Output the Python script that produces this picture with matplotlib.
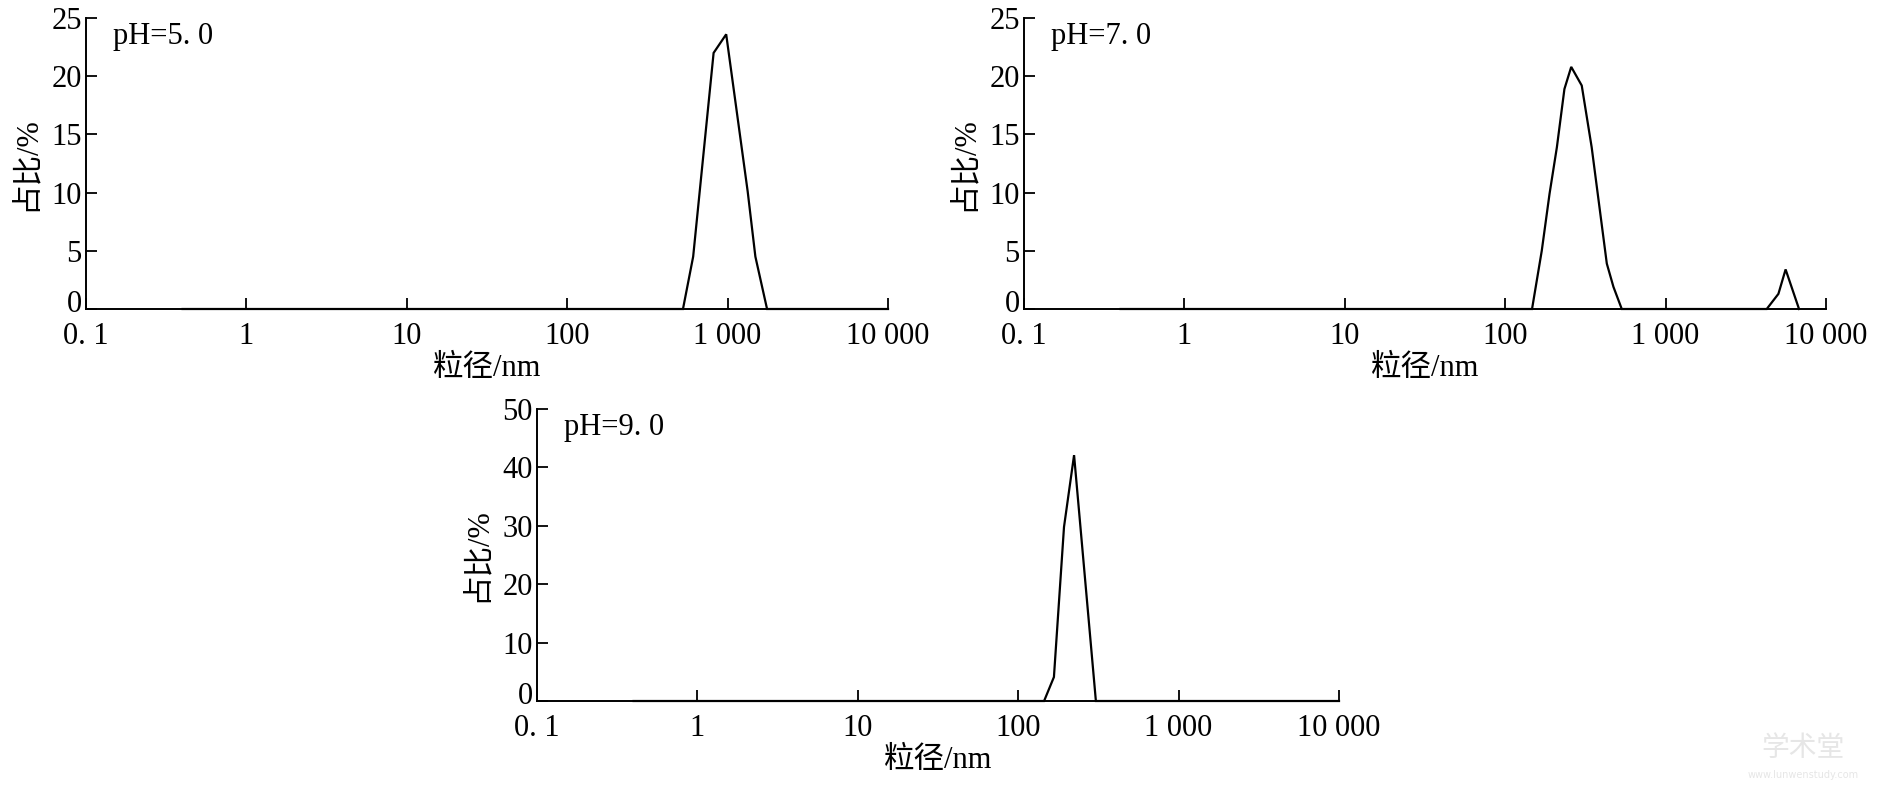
import matplotlib
matplotlib.use("Agg")
import matplotlib.pyplot as plt
from matplotlib.transforms import ScaledTranslation

# ---- data ----
size_ph5 = [0.4, 527, 610, 818, 980, 1334, 1490, 1762, 10000]
pct_ph5 = [0, 0, 4.5, 22.0, 23.6, 10.1, 4.5, 0, 0]

size_ph7 = [0.4, 147, 169, 189, 210, 234, 258, 300, 346, 430, 473, 533, 4270, 5050, 5600, 6790]
pct_ph7 = [0, 0, 5.0, 9.9, 13.9, 18.9, 20.8, 19.2, 13.9, 3.9, 1.9, 0, 0, 1.3, 3.4, 0]

size_ph9 = [0.4, 145, 167, 193, 223, 305, 10000]
pct_ph9 = [0, 0, 4.1, 29.8, 42.1, 0, 0]

xticks = [0.1, 1, 10, 100, 1000, 10000]
xtick_labels = ["0. 1", "1", "10", "100", "1 000", "10 000"]
yticks_a = [0, 5, 10, 15, 20, 25]
yticks_b = [0, 10, 20, 30, 40, 50]
titles = ["pH=5. 0", "pH=7. 0", "pH=9. 0"]
xlabel = "粒径/nm"
ylabel = "占比/%"

FONT = ["Liberation Serif", "Noto Sans CJK SC"]
FS = 22

fig = plt.figure(figsize=(18.9, 7.95), dpi=100)
fig.patch.set_facecolor("white")

rects = [
    (86 / 1890, 1 - 309 / 795, 802 / 1890, 291 / 795),
    (1024 / 1890, 1 - 309 / 795, 802 / 1890, 291 / 795),
    (537 / 1890, 1 - 701 / 795, 802 / 1890, 292 / 795),
]
datasets = [(size_ph5, pct_ph5, yticks_a), (size_ph7, pct_ph7, yticks_a), (size_ph9, pct_ph9, yticks_b)]

for rect, (xs, ys, yt), title in zip(rects, datasets, titles):
    ax = fig.add_axes(rect)
    ax.plot(xs, ys, color="black", lw=1.6, clip_on=False, solid_joinstyle="miter")
    ax.set_xscale("log")
    ax.set_xlim(0.1, 10000)
    ax.set_ylim(yt[0], yt[-1])
    ax.set_xticks(xticks)
    ax.set_xticklabels(xtick_labels, family=FONT, fontsize=FS)
    ax.set_yticks(yt)
    ax.set_yticklabels([str(v) for v in yt], family=FONT, fontsize=FS)
    ax.minorticks_off()
    ax.tick_params(axis="both", direction="in", length=8, width=1.3, color="black")
    ax.tick_params(axis="x", pad=9)
    ax.tick_params(axis="y", pad=3)
    # raise the "0" y tick label slightly, as in the reference
    zero_lbl = ax.yaxis.get_major_ticks()[0].label1
    zero_lbl.set_transform(zero_lbl.get_transform()
                           + ScaledTranslation(0, 6 / 72, fig.dpi_scale_trans))
    for s in ["top", "right"]:
        ax.spines[s].set_visible(False)
    for s in ["left", "bottom"]:
        ax.spines[s].set_linewidth(1.4)
    ax.set_xlabel(xlabel, family=FONT, fontsize=FS, va="center")
    ax.xaxis.set_label_coords(0.5, -0.205)
    ax.set_ylabel(ylabel, family=FONT, fontsize=FS, va="center", rotation=90)
    ax.yaxis.set_label_coords(-0.075, 0.5)
    ax.text(0.034, 0.985, title, transform=ax.transAxes, family=FONT, fontsize=FS,
            ha="left", va="top")

# watermark
fig.text(1803 / 1890, 1 - 748 / 795, "学术堂", family=["Noto Sans CJK SC"], fontsize=20,
         color="#e6e6e6", ha="center", va="center")
fig.text(1803 / 1890, 1 - 775 / 795, "www.lunwenstudy.com", family=["DejaVu Sans"], fontsize=7,
         color="#e6e6e6", ha="center", va="center")

fig.savefig("out.png", dpi=100, facecolor="white")
